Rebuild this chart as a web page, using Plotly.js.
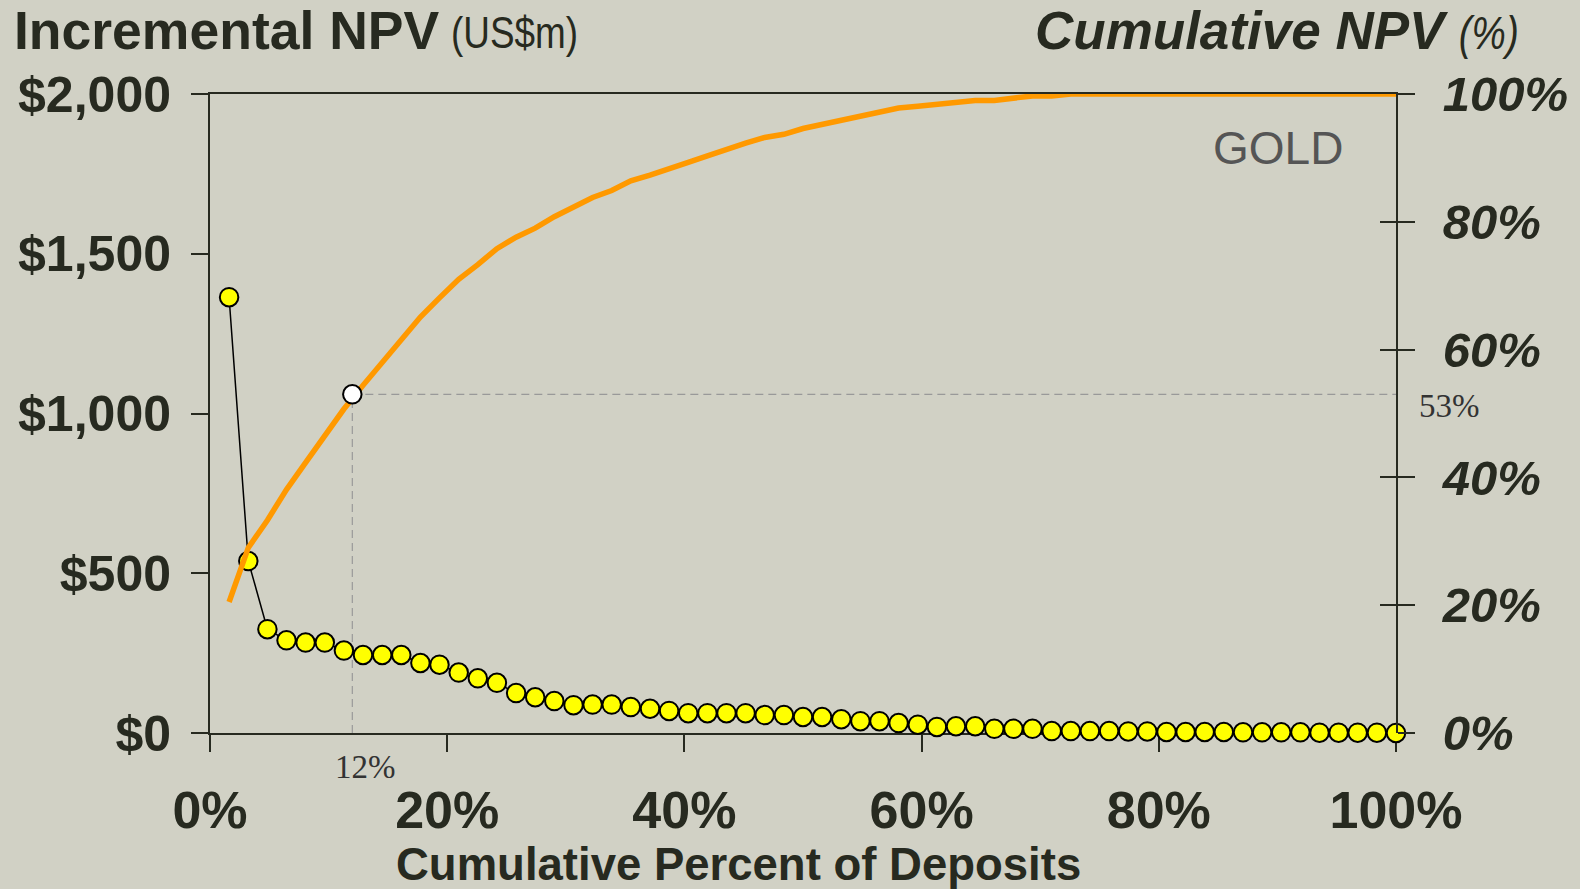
<!DOCTYPE html>
<html>
<head>
<meta charset="utf-8">
<script src="https://cdn.plot.ly/plotly-3.0.1.min.js"></script>
<style>
html,body{margin:0;padding:0;background:#d1d1c5;}
#chart{width:1580px;height:889px;}
</style>
</head>
<body>
<div id="chart"></div>
<script>
// ---- data ----
const pctDeposits = [1.61,3.23,4.84,6.45,8.06,9.68,11.29,12.90,14.52,16.13,17.74,19.35,20.97,22.58,24.19,25.81,27.42,29.03,30.65,32.26,33.87,35.48,37.10,38.71,40.32,41.94,43.55,45.16,46.77,48.39,50.00,51.61,53.23,54.84,56.45,58.06,59.68,61.29,62.90,64.52,66.13,67.74,69.35,70.97,72.58,74.19,75.81,77.42,79.03,80.65,82.26,83.87,85.48,87.10,88.71,90.32,91.94,93.55,95.16,96.77,98.39,100.00];
const incrementalNPV = [1364,538,325,290,283,283,258,244,244,244,219,214,189,171,157,125,112,100,87,89,89,81,76,69,62,62,62,62,56,56,50,50,43,37,37,31,26,19,21,21,13,13,13,6,6,6,6,5,5,3,3,3,3,2,2,2,2,1,1,1,1,0];
const cumulativeNPV = [20.5,29.0,33.3,38.1,42.3,46.7,50.7,54.4,58.0,61.6,65.1,68.1,71.0,73.3,75.8,77.6,79.0,80.8,82.2,83.8,84.9,86.4,87.3,88.4,89.3,90.3,91.4,92.3,93.2,93.7,94.6,95.2,95.9,96.6,97.2,97.8,98.1,98.4,98.7,99.0,99.0,99.3,99.7,99.7,100,100,100,100,100,100,100,100,100,100,100,100,100,100,100,100,100,100];
const markX = [12];
const markY = [53];
const markXLabel = '12%';
const markYLabel = '53%';
const xTickVals = [0,20,40,60,80,100];
const xTickText = ['0%','20%','40%','60%','80%','100%'];
const yTickVals = [0,500,1000,1500,2000];
const yTickText = ['$0','$500','$1,000','$1,500','$2,000'];
const y2TickVals = [0,20,40,60,80,100];
const y2TickText = ['0%','20%','40%','60%','80%','100%'];

// ---- layout geometry ----
const W = 1580, H = 889;
const M = {l:210, r:184, t:94, b:156};
const PW = W - M.l - M.r, PH = H - M.t - M.b;
const xp = px => (px - M.l) / PW;
const yp = py => (H - M.b - py) / PH;

const BG = '#d1d1c5';
const INK = '#272a20';
const SANS = 'Liberation Sans, Arial, Helvetica, sans-serif';
const SERIF = 'Liberation Serif, Times New Roman, serif';

const traces = [
  {
    x: pctDeposits, y: incrementalNPV, type: 'scatter', mode: 'lines+markers',
    line: {color: '#000000', width: 1.5},
    marker: {size: 18.5, color: '#ffff00', line: {color: '#000000', width: 2}},
    cliponaxis: false, hoverinfo: 'skip', xaxis: 'x', yaxis: 'y'
  },
  {
    x: pctDeposits, y: cumulativeNPV, type: 'scatter', mode: 'lines',
    line: {color: '#ff9900', width: 5.5},
    cliponaxis: false, hoverinfo: 'skip', xaxis: 'x', yaxis: 'y2'
  },
  {
    x: markX, y: markY, type: 'scatter', mode: 'markers',
    marker: {size: 18.5, color: '#ffffff', line: {color: '#000000', width: 2}},
    cliponaxis: false, hoverinfo: 'skip', xaxis: 'x', yaxis: 'y2'
  },
  {
    x: [], y: [], type: 'scatter', mode: 'markers', xaxis: 'x', yaxis: 'y3', hoverinfo: 'skip'
  }
];

const layout = {
  width: W, height: H,
  margin: M,
  paper_bgcolor: BG, plot_bgcolor: BG,
  showlegend: false,
  xaxis: {
    range: [0, 100], tickvals: xTickVals, ticktext: xTickText,
    showgrid: false, zeroline: false,
    showline: true, linecolor: INK, linewidth: 2, mirror: true,
    ticks: 'outside', ticklen: 17, tickwidth: 2, tickcolor: INK,
    tickfont: {family: SANS, size: 52, weight: 'bold', color: INK},
    ticklabelstandoff: 14,
    layer: 'below traces'
  },
  yaxis: {
    range: [0, 2000], tickvals: yTickVals, ticktext: yTickText,
    showgrid: false, zeroline: false,
    showline: true, linecolor: INK, linewidth: 2,
    ticks: 'outside', ticklen: 17, tickwidth: 2, tickcolor: INK,
    tickfont: {family: SANS, size: 50, weight: 'bold', color: INK},
    ticklabelstandoff: 10,
    layer: 'below traces'
  },
  yaxis2: {
    range: [0, 100], tickvals: y2TickVals, ticktext: y2TickText,
    overlaying: 'y', side: 'right',
    showgrid: false, zeroline: false,
    showline: true, linecolor: INK, linewidth: 2,
    ticks: 'outside', ticklen: 17, tickwidth: 2, tickcolor: INK,
    tickfont: {family: SANS, size: 49, weight: 'bold', style: 'italic', color: INK},
    ticklabelstandoff: 18,
    layer: 'above traces'
  },
  yaxis3: {
    range: [0, 100], tickvals: y2TickVals,
    overlaying: 'y', side: 'right',
    showgrid: false, zeroline: false, showline: false,
    ticks: 'inside', ticklen: 16, tickwidth: 2, tickcolor: INK,
    showticklabels: false,
    layer: 'above traces'
  },
  shapes: [
    {type: 'line', xref: 'x', yref: 'y2', x0: markX[0], x1: markX[0], y0: 0, y1: markY[0],
     line: {color: '#999999', width: 1.2, dash: '8px,5px'}, layer: 'below'},
    {type: 'line', xref: 'x', yref: 'y2', x0: markX[0], x1: 100, y0: markY[0], y1: markY[0],
     line: {color: '#999999', width: 1.2, dash: '8px,5px'}, layer: 'below'}
  ],
  annotations: [
    {text: 'Incremental NPV', xref: 'paper', yref: 'paper', x: xp(12), y: yp(31),
     xanchor: 'left', yanchor: 'middle', showarrow: false,
     font: {family: SANS, size: 53.5, weight: 'bold', color: INK}},
    {text: '(US$m)', xref: 'paper', yref: 'paper', x: xp(514), y: yp(33),
     xanchor: 'center', yanchor: 'middle', showarrow: false,
     font: {family: SANS, size: 45, color: INK}},
    {text: 'Cumulative NPV', xref: 'paper', yref: 'paper', x: xp(1033), y: yp(31),
     xanchor: 'left', yanchor: 'middle', showarrow: false,
     font: {family: SANS, size: 53, weight: 'bold', style: 'italic', color: INK}},
    {text: '(%)', xref: 'paper', yref: 'paper', x: xp(1489), y: yp(33),
     xanchor: 'center', yanchor: 'middle', showarrow: false,
     font: {family: SANS, size: 46, style: 'italic', color: INK}},
    {text: 'GOLD', xref: 'paper', yref: 'paper', x: xp(1278), y: yp(148),
     xanchor: 'center', yanchor: 'middle', showarrow: false,
     font: {family: SANS, size: 46, color: '#555555'}},
    {text: markXLabel, xref: 'paper', yref: 'paper', x: xp(365), y: yp(767),
     xanchor: 'center', yanchor: 'middle', showarrow: false,
     font: {family: SERIF, size: 33, color: '#333333'}},
    {text: markYLabel, xref: 'paper', yref: 'paper', x: xp(1449), y: yp(406),
     xanchor: 'center', yanchor: 'middle', showarrow: false,
     font: {family: SERIF, size: 33, color: '#333333'}},
    {text: 'Cumulative Percent of Deposits', xref: 'paper', yref: 'paper', x: xp(738), y: yp(864),
     xanchor: 'center', yanchor: 'middle', showarrow: false,
     font: {family: SANS, size: 45.5, weight: 'bold', color: INK}}
  ]
};

// narrow (condensed) look for the unit labels: fit them to their measured widths
const narrowWidths = {'(US$m)': 127, '(%)': 60};

Plotly.newPlot('chart', traces, layout, {displayModeBar: false, staticPlot: true}).then(function () {
  document.querySelectorAll('#chart text.annotation-text').forEach(function (t) {
    const w = narrowWidths[t.textContent];
    if (w) {
      t.setAttribute('textLength', w);
      t.setAttribute('lengthAdjust', 'spacingAndGlyphs');
    }
  });
});
</script>
</body>
</html>
